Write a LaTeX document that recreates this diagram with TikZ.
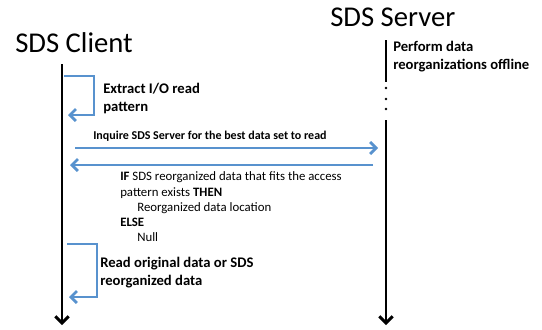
\documentclass[tikz,border=0pt]{standalone}
\usepackage{fontspec}
\setmainfont{Carlito}
\usetikzlibrary{arrows.meta}
\definecolor{msgblue}{RGB}{88,146,206}
\begin{document}
\begin{tikzpicture}[x=0.75pt, y=-0.75pt, >={Straight Barb[length=4.5pt,width=9pt]}, line join=miter, line cap=butt]
		\useasboundingbox (0,0) rectangle (542,329);
		\def\cx{62} \def\sx{386} \def\yend{325} % lifelines
		\tikzset{
			lifeline/.style={line width=2.2pt, ->, >={Straight Barb[length=5pt,width=10pt]}},
			msg/.style={msgblue, line width=2pt, ->},
			title/.style={font=\fontsize{21.5}{26}\selectfont, inner sep=0pt, anchor=base west},
			label/.style={font=\fontsize{11}{13.2}\selectfont\bfseries, inner sep=0pt, align=left, anchor=north west},
			cond/.style={font=\fontsize{9.6}{11}\selectfont, inner sep=0pt, anchor=base west}
		}
		% titles
		\node[title] (client) at (15,52) {SDS Client};
		\node[title] (server) at (330,26) {SDS Server};
		% client lifeline
		\coordinate (ctop) at (\cx,64);
		\coordinate (cbot) at (\cx,\yend);
		\draw[lifeline] (ctop)--(cbot);
		% server lifeline, broken by dots
		\coordinate (stop) at (\sx,40);
		\coordinate (sbrk) at (\sx,82);
		\coordinate (sres) at (\sx,120);
		\coordinate (sbot) at (\sx,\yend);
		\draw[line width=2.2pt] (stop)--(sbrk);
		\foreach \y in {88,99,109}
			\fill (\sx,\y) circle (1.3);
		\draw[lifeline] (sres)--(sbot);
		\node[label] (offline) at (393,41) {Perform data\\reorganizations offline};
		% extract pattern (self loop)
		\coordinate (la) at (64,76); \coordinate (lb) at (94,76);
		\coordinate (lc) at (94,115); \coordinate (ld) at (68,115);
		\draw[msg] (la)--(lb)--(lc)--(ld);
		\node[label] (extract) at (103,83) {Extract I/O read\\pattern};
		% request and reply
		\coordinate (qa) at (75,148); \coordinate (qb) at (378,148);
		\coordinate (ra) at (373,165); \coordinate (rb) at (70,165);
		\node[font=\fontsize{9}{11}\selectfont\bfseries, inner sep=0pt, anchor=base west] (inquire) at (93,139) {Inquire SDS Server for the best data set to read};
		\draw[msg] (qa)--(qb);
		\draw[msg] (ra)--(rb);
		\node[cond] (if) at (120,180) {\textbf{IF} SDS reorganized data that fits the access};
		\node[cond] (then) at (120,196) {pattern exists \textbf{THEN}};
		\node[cond] (loc) at (137,211) {Reorganized data location};
		\node[cond] (else) at (120,226) {\textbf{ELSE}};
		\node[cond] (null) at (137,241) {Null};
		% read data (self loop)
		\coordinate (ma) at (67,244); \coordinate (mb) at (97,244);
		\coordinate (mc) at (97,297); \coordinate (md) at (69,297);
		\draw[msg] (ma)--(mb)--(mc)--(md);
		\node[label] (read) at (100,257) {Read original data or SDS\\reorganized data};
\end{tikzpicture}
\end{document}
